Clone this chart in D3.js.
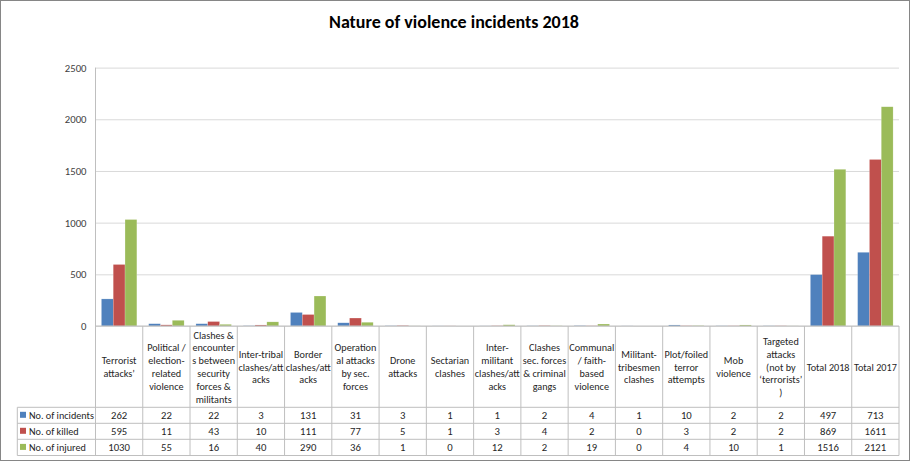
<!DOCTYPE html>
<html>
<head>
<meta charset="utf-8">
<script src="https://cdn.jsdelivr.net/npm/d3@7"></script>
<style>
  body { margin: 0; background: #fff; }
  svg { display: block; font-family: Carlito, Lato, "Liberation Sans", sans-serif; }
</style>
</head>
<body>
<svg width="911" height="462"></svg>
<script>
// category labels, already split the way the table wraps them
const categories = [
  ["Terrorist", "attacks’"],
  ["Political /", "election-", "related", "violence"],
  ["Clashes &", "encounter", "s between", "security", "forces &", "militants"],
  ["Inter-tribal", "clashes/att", "acks"],
  ["Border", "clashes/att", "acks"],
  ["Operation", "al attacks", "by sec.", "forces"],
  ["Drone", "attacks"],
  ["Sectarian", "clashes"],
  ["Inter-", "militant", "clashes/att", "acks"],
  ["Clashes", "sec. forces", "& criminal", "gangs"],
  ["Communal", "/ faith-", "based", "violence"],
  ["Militant-", "tribesmen", "clashes"],
  ["Plot/foiled", "terror", "attempts"],
  ["Mob", "violence"],
  ["Targeted", "attacks", "(not by", "‘terrorists’", ")"],
  ["Total 2018"],
  ["Total 2017"]
];

const series_names = ["No. of incidents", "No. of killed", "No. of injured"];
const incidents = [262, 22, 22, 3, 131, 31, 3, 1, 1, 2, 4, 1, 10, 2, 2, 497, 713];
const killed    = [595, 11, 43, 10, 111, 77, 5, 1, 3, 4, 2, 0, 3, 2, 2, 869, 1611];
const injured   = [1030, 55, 16, 40, 290, 36, 1, 0, 12, 2, 19, 0, 4, 10, 1, 1516, 2121];
const y_ticks = [0, 500, 1000, 1500, 2000, 2500];

const colors = ["#4F81BD", "#C0504D", "#9BBB59"];
const series = [incidents, killed, injured];
const fsize = 10.2;

const svg = d3.select("svg");

// outer frame
svg.append("rect")
   .attr("x", 0.5).attr("y", 0.5)
   .attr("width", 909).attr("height", 460)
   .attr("fill", "#fff")
   .attr("stroke", "#868686");

svg.append("text")
   .attr("x", 454)
   .attr("y", 28)
   .attr("text-anchor", "middle")
   .attr("font-size", 18)
   .attr("font-weight", "bold")
   .attr("fill", "#000")
   .text("Nature of violence incidents 2018");

const plot_left = 95.5, plot_right = 899, plot_top = 67.6, plot_bottom = 326;
const legend_left = 17.3;
const row_tops = [407.3, 423.3, 439.3, 455.5];

const x = d3.scaleBand()
            .domain(d3.range(categories.length))
            .range([plot_left, plot_right]);

const xs = d3.scaleBand()
             .domain(d3.range(series.length))
             .range([0, x.bandwidth()])
             .paddingOuter(0.5)
             .paddingInner(0);

const y = d3.scaleLinear()
            .domain([0, 2500])
            .range([plot_bottom, plot_top]);

// gridlines + y labels
const y_axis = d3.axisLeft(y)
                 .tickValues(y_ticks)
                 .tickFormat(d3.format("d"))
                 .tickSize(-(plot_right - plot_left))
                 .tickPadding(9);

const y_g = svg.append("g")
               .attr("transform", "translate(" + plot_left + ",0)")
               .call(y_axis);

y_g.select(".domain").remove();
y_g.selectAll(".tick line")
   .attr("stroke", "#D9D9D9");
y_g.selectAll(".tick text")
   .attr("font-size", fsize + 0.5)
   .attr("font-family", "Carlito, Lato, sans-serif")
   .attr("fill", "#404040");

// y axis line
svg.append("line")
   .attr("x1", plot_left).attr("x2", plot_left)
   .attr("y1", plot_top).attr("y2", plot_bottom)
   .attr("stroke", "#BFBFBF");

// bars
series.forEach(function(vals, s) {
  svg.append("g")
     .selectAll("rect")
     .data(vals)
     .enter()
     .append("rect")
     .attr("x", function(d, i) { return x(i) + xs(s); })
     .attr("y", function(d) { return y(d); })
     .attr("width", xs.bandwidth())
     .attr("height", function(d) { return plot_bottom - y(d); })
     .attr("fill", colors[s])
     .attr("stroke", "#fff")
     .attr("stroke-opacity", 0.35)
     .attr("stroke-width", 0.5);
});

// data table
const grid = svg.append("g")
                .attr("stroke", "#BFBFBF")
                .attr("stroke-width", 1);

// horizontal table lines
grid.append("line")
    .attr("x1", plot_left).attr("x2", plot_right)
    .attr("y1", plot_bottom).attr("y2", plot_bottom);
row_tops.forEach(function(ry) {
  grid.append("line")
      .attr("x1", legend_left).attr("x2", plot_right)
      .attr("y1", ry).attr("y2", ry);
});

// vertical table lines
d3.range(categories.length + 1).forEach(function(i) {
  const vx = i < categories.length ? x(i) : plot_right;
  grid.append("line")
      .attr("x1", vx).attr("x2", vx)
      .attr("y1", plot_bottom).attr("y2", row_tops[3]);
});
grid.append("line")
    .attr("x1", legend_left).attr("x2", legend_left)
    .attr("y1", row_tops[0]).attr("y2", row_tops[3]);

// category headers
const line_h = 12.8;
const head_mid = (plot_bottom + row_tops[0]) / 2;

categories.forEach(function(lines, i) {
  const t = svg.append("text")
               .attr("text-anchor", "middle")
               .attr("font-size", fsize)
               .attr("fill", "#262626");
  lines.forEach(function(ln, k) {
    t.append("tspan")
     .attr("x", x(i) + x.bandwidth() / 2)
     .attr("y", head_mid + (k - (lines.length - 1) / 2) * line_h + 4)
     .text(ln);
  });
});

// legend + value rows
series.forEach(function(vals, s) {
  const cy = (row_tops[s] + row_tops[s + 1]) / 2;

  svg.append("rect")
     .attr("x", 20).attr("y", cy - 3.5)
     .attr("width", 6).attr("height", 6)
     .attr("fill", colors[s]);

  svg.append("text")
     .attr("x", 29)
     .attr("y", cy + 4)
     .attr("font-size", fsize)
     .attr("fill", "#262626")
     .text(series_names[s]);

  svg.append("g")
     .selectAll("text")
     .data(vals)
     .enter()
     .append("text")
     .attr("x", function(d, i) { return x(i) + x.bandwidth() / 2; })
     .attr("y", cy + 4)
     .attr("text-anchor", "middle")
     .attr("font-size", fsize + 0.5)
     .attr("fill", "#262626")
     .text(function(d) { return d; });
});
</script>
</body>
</html>
